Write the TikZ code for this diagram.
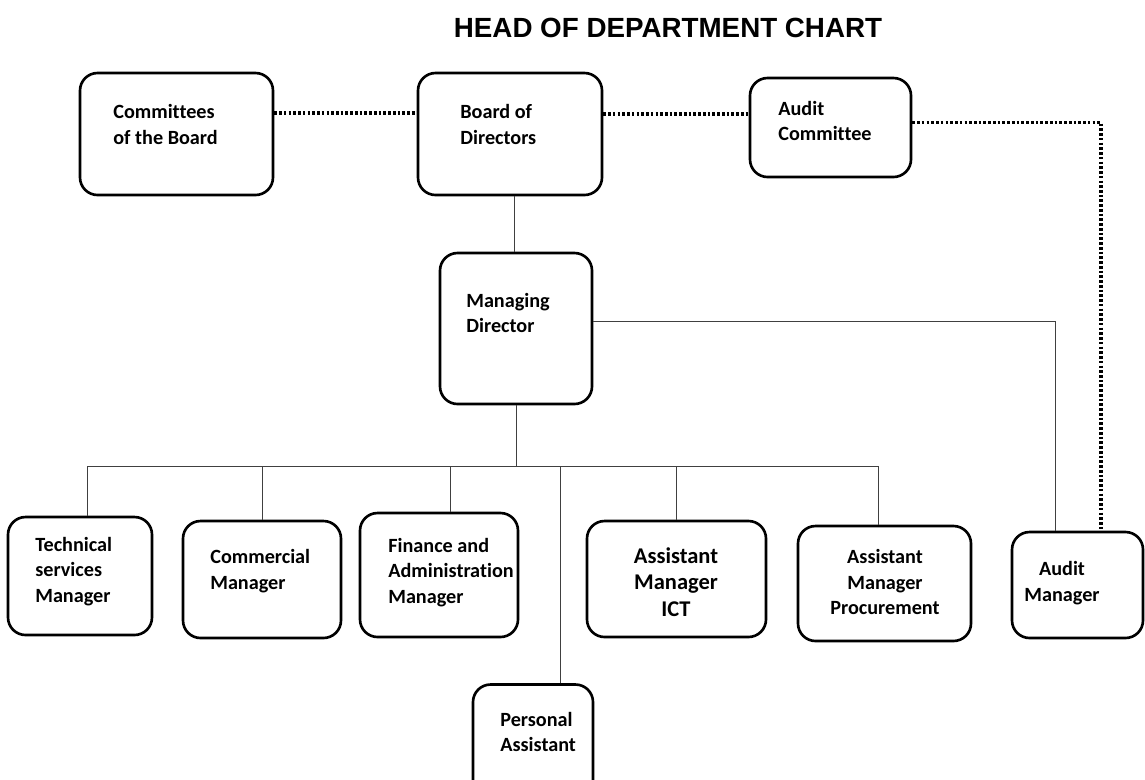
\documentclass[tikz,border=0pt]{standalone}
\usepackage{fontspec}
\setmainfont{Carlito}[Ligatures=NoCommon]
\newfontfamily\titlefont{Liberation Sans}
\usepackage{tikz}

\begin{document}
\begin{tikzpicture}[x=0.02cm, y=-0.02cm,
    box/.style={draw, line width=1.5pt, rounded corners=10pt},
    txt/.style={font=\bfseries\fontsize{11.5}{14.5}\selectfont, inner sep=0pt},
    bigtxt/.style={font=\bfseries\fontsize{12.8}{15.2}\selectfont, inner sep=0pt, align=center},
    conn/.style={draw=black!75, line width=0.5pt},
    dots/.style={draw, line width=1.8pt, dash pattern=on 1.5pt off 1.2pt}]

    \useasboundingbox (0,0) rectangle (1145,779);
    \clip (0,0) rectangle (1145,779);

    \node[font=\titlefont\bfseries\fontsize{15.8}{18}\selectfont] at (668,28) (title) {HEAD OF DEPARTMENT CHART};

    % boxes
    \node[box, minimum width=193*0.02cm, minimum height=122*0.02cm] at (176.5,134) (cmte) {};
    \node[box, minimum width=184*0.02cm, minimum height=122*0.02cm] at (510,134) (board) {};
    \node[box, minimum width=161*0.02cm, minimum height=99*0.02cm] at (830.5,127.5) (audit) {};
    \node[box, minimum width=152*0.02cm, minimum height=151*0.02cm] at (516,328.5) (md) {};
    \node[box, minimum width=144*0.02cm, minimum height=118*0.02cm] at (80,576) (tech) {};
    \node[box, minimum width=158*0.02cm, minimum height=117*0.02cm] at (262,579.5) (comm) {};
    \node[box, minimum width=158*0.02cm, minimum height=124*0.02cm] at (439,575) (fin) {};
    \node[box, minimum width=179*0.02cm, minimum height=116*0.02cm] at (676.5,579) (ict) {};
    \node[box, minimum width=173*0.02cm, minimum height=115*0.02cm] at (884.5,583.5) (proc) {};
    \node[box, minimum width=131*0.02cm, minimum height=106*0.02cm] at (1077.5,585) (auditm) {};
    \node[box, minimum width=120*0.02cm, minimum height=115*0.02cm] at (533,742) (pa) {};

    % texts
    \node[txt, anchor=west, align=left] at (113,124.5) (cmte-t) {Committees\\of the Board};
    \node[txt, anchor=west, align=left] at (460,124.5) (board-t) {Board of\\Directors};
    \node[txt, anchor=west, align=left] at (778,121) (audit-t) {Audit\\Committee};
    \node[txt, anchor=west, align=left] at (466,313) (md-t) {Managing\\Director};
    \node[txt, anchor=west, align=left] at (35,571.5) (tech-t) {Technical\\services\\Manager};
    \node[txt, anchor=west, align=left] at (210,571) (comm-t) {Commercial\\Manager};
    \node[txt, anchor=west, align=left] at (388,572.5) (fin-t) {Finance and\\Administration\\Manager};
    \node[bigtxt] at (676,582) (ict-t) {Assistant\\Manager\\ICT};
    \node[txt, align=center] at (885,582) (proc-t) {Assistant\\Manager\\Procurement};
    \node[txt, align=center] at (1062,583) (auditm-t) {Audit\\Manager};
    \node[txt, anchor=west, align=left] at (500,732) (pa-t) {Personal\\Assistant};

    % dotted links
    \draw[dots] ([yshift=0.42cm]cmte.east) -- ([yshift=0.42cm]cmte.east -| board.west);
    \draw[dots] ([yshift=0.4cm]board.east) -- ([yshift=0.4cm]board.east -| audit.west);
    \draw[dots] ([yshift=0.1cm]audit.east) -| ([xshift=0.47cm]auditm.north);

    % reporting lines
    \coordinate (bus) at (518,466);
    \draw[conn] ([xshift=0.08cm]board.south) -- ([xshift=0.08cm]board.south |- md.north);
    \draw[conn] ([yshift=0.15cm]md.east) -| ([xshift=-0.45cm]auditm.north);
    \draw[conn] (md.south) -- (md.south |- bus);
    \draw[conn] ([xshift=0.14cm]bus -| tech.north) -- ([xshift=-0.13cm]bus -| proc.north);
    \draw[conn] ([xshift=0.14cm]tech.north) -- ([xshift=0.14cm]tech.north |- bus);
    \draw[conn] (comm.north) -- (comm.north |- bus);
    \draw[conn] ([xshift=0.22cm]fin.north) -- ([xshift=0.22cm]fin.north |- bus);
    \draw[conn] (ict.north) -- (ict.north |- bus);
    \draw[conn] ([xshift=-0.13cm]proc.north) -- ([xshift=-0.13cm]proc.north |- bus);
    \draw[conn] ([xshift=0.54cm]pa.north) -- ([xshift=0.54cm]pa.north |- bus);

  \end{tikzpicture}
\end{document}
